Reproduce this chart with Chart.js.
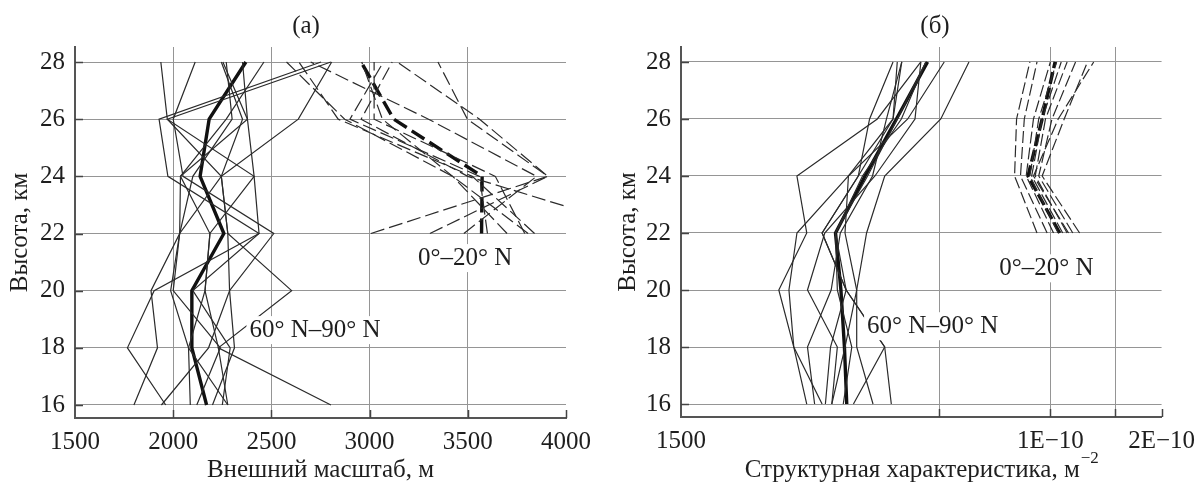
<!DOCTYPE html>
<html>
<head>
<meta charset="utf-8">
<script src="https://cdn.jsdelivr.net/npm/chart.js@4.4.1/dist/chart.umd.min.js"></script>
<style>
  body { margin: 0; background: #fff; }
  #wrap { position: relative; width: 1204px; height: 489px; }
  canvas { position: absolute; top: 0; }
  #chartA { left: 0; }
  #chartB { left: 600px; }
</style>
</head>
<body>
<div id="wrap">
  <canvas id="chartA" width="600" height="489"></canvas>
  <canvas id="chartB" width="604" height="489"></canvas>
</div>
<script>
// высоты, км
const altFull = [16, 18, 20, 22, 24, 26, 28];
const altTrop = [22, 24, 26, 28];
const altTicks = [16, 18, 20, 22, 24, 26, 28];

// (а) внешний масштаб, м — 60° N–90° N (по высотам altFull)
const scalePolar = [
  [1800, 1920, 1887, 2033, 2037, 2378, 2353],
  [1962, 1767, 1903, 2437, 1973, 1928, 2753],
  [2087, 2078, 1987, 2033, 2245, 1970, 2803],
  [2278, 2230, 2162, 2187, 2412, 1970, 1937],
  [2803, 2230, 2603, 2278, 2245, 2353, 2245],
  [2200, 2312, 2287, 2512, 2050, 2000, 2112],
  [2278, 2078, 2162, 2187, 2037, 2270, 2462],
  [1940, 2180, 2287, 2278, 2245, 2637, 2807],
  [2120, 2240, 2000, 2033, 2100, 2300, 2270],
  [2250, 2290, 2100, 2437, 2412, 2378, 2253]
];
const scalePolarMean = [2170, 2095, 2095, 2258, 2137, 2183, 2370];

// (а) внешний масштаб, м — 0°–20° N (по высотам altTrop)
const scaleTrop = [
  [3807, 3423, 2873, 2577],
  [3840, 3523, 2840, 2640],
  [3790, 3640, 3023, 3023],
  [4450, 3500, 2957, 3115],
  [3007, 3907, 3498, 3348],
  [3307, 3907, 3560, 3140],
  [3700, 3423, 3065, 2960],
  [3600, 3560, 2900, 3070],
  [3480, 3850, 3300, 2700]
];
const scaleTropMean = [3570, 3573, 3123, 2957];
const scaleTicks = [1500, 2000, 2500, 3000, 3500, 4000];

// (б) структурная характеристика, м^-2 — 60° N–90° N
const cn2Polar = [
  [2.19e-11, 2.02e-11, 1.84e-11, 2.19e-11, 2.06e-11, 3.40e-11, 4.46e-11],
  [3.31e-11, 2.99e-11, 2.99e-11, 3.18e-11, 3.56e-11, 5.05e-11, 6.02e-11],
  [2.41e-11, 2.02e-11, 1.96e-11, 2.06e-11, 2.84e-11, 3.75e-11, 3.85e-11],
  [2.46e-11, 2.54e-11, 2.80e-11, 2.41e-11, 3.02e-11, 3.24e-11, 3.75e-11],
  [2.56e-11, 2.78e-11, 2.99e-11, 2.78e-11, 2.84e-11, 4.11e-11, 5.16e-11],
  [2.93e-11, 3.56e-11, 2.80e-11, 2.41e-11, 3.02e-11, 3.75e-11, 3.96e-11],
  [3.71e-11, 3.56e-11, 2.80e-11, 2.62e-11, 3.20e-11, 3.85e-11, 4.60e-11],
  [2.30e-11, 2.20e-11, 2.55e-11, 2.70e-11, 3.30e-11, 3.60e-11, 3.96e-11],
  [2.75e-11, 2.90e-11, 2.65e-11, 2.62e-11, 3.10e-11, 3.95e-11, 4.60e-11],
  [2.56e-11, 2.65e-11, 2.20e-11, 2.45e-11, 3.35e-11, 4.30e-11, 4.46e-11]
];
const cn2PolarMean = [2.81e-11, 2.77e-11, 2.71e-11, 2.62e-11, 3.15e-11, 3.83e-11, 4.65e-11];

// (б) структурная характеристика — 0°–20° N
const cn2Trop = [
  [0.92e-10, 0.80e-10, 0.81e-10, 0.88e-10],
  [0.98e-10, 0.83e-10, 0.85e-10, 0.92e-10],
  [1.02e-10, 0.86e-10, 0.90e-10, 1.00e-10],
  [1.05e-10, 0.88e-10, 0.93e-10, 1.04e-10],
  [1.08e-10, 0.89e-10, 0.95e-10, 1.07e-10],
  [1.11e-10, 0.91e-10, 0.97e-10, 1.11e-10],
  [1.15e-10, 0.93e-10, 1.01e-10, 1.17e-10],
  [1.20e-10, 0.95e-10, 1.09e-10, 1.26e-10],
  [1.12e-10, 0.90e-10, 1.05e-10, 1.31e-10]
];
const cn2TropMean = [1.06e-10, 0.87e-10, 0.95e-10, 1.03e-10];
const cn2Ticks = [1e-11, 5e-11, 1e-10, 1.5e-10, 2e-10];
const cn2Labels = { 1e-11: '1500', 1e-10: '1E\u221210', 2e-10: '2E\u221210' };

const FONT = 'Liberation Serif';
const FS = 25;
const INK = '#1e1e1e';

function series(values, levels, style) {
  return Object.assign({
    data: levels.map((h, i) => ({ x: values[i], y: h })),
    showLine: true,
    pointRadius: 0,
    fill: false
  }, style);
}

const thin = { borderColor: '#2b2b2b', borderWidth: 1.2 };
const thick = { borderColor: '#111', borderWidth: 3.4 };

// засечки внутрь, заголовок панели, подписи с белым фоном
function decor(title, titleX, notes, xTitle) {
  return {
    id: 'decor',
    afterDraw(chart) {
      const { ctx, chartArea: a, scales: { x, y } } = chart;
      ctx.save();
      ctx.strokeStyle = '#444';
      ctx.lineWidth = 1.5;
      ctx.beginPath();
      x.ticks.forEach((t, i) => {
        if (i === 0) return;
        const px = Math.round(x.getPixelForValue(t.value)) + 0.5;
        ctx.moveTo(px, a.bottom);
        ctx.lineTo(px, a.bottom - 8);
      });
      y.ticks.forEach(t => {
        const py = Math.round(y.getPixelForValue(t.value)) + 0.5;
        ctx.moveTo(a.left, py);
        ctx.lineTo(a.left + 8, py);
      });
      ctx.stroke();

      ctx.font = FS + 'px "' + FONT + '"';
      ctx.textAlign = 'center';
      ctx.textBaseline = 'middle';
      ctx.fillStyle = INK;
      ctx.fillText(title, titleX, 26);
      notes.forEach(n => {
        const cx = x.getPixelForValue(n.x);
        const cy = y.getPixelForValue(n.y);
        const w = ctx.measureText(n.text).width;
        ctx.fillStyle = '#fff';
        ctx.fillRect(cx - w / 2 - 3, cy - 14, w + 6, 28);
        ctx.fillStyle = INK;
        ctx.fillText(n.text, cx, cy);
      });

      if (xTitle) {
        const supFont = Math.round(FS * 0.68) + 'px "' + FONT + '"';
        const mainFont = FS + 'px "' + FONT + '"';
        ctx.font = mainFont;
        const w1 = ctx.measureText(xTitle.main).width;
        ctx.font = supFont;
        const w2 = ctx.measureText(xTitle.sup).width;
        const x0 = (a.left + a.right) / 2 - (w1 + w2) / 2;
        ctx.textAlign = 'left';
        ctx.font = mainFont;
        ctx.fillText(xTitle.main, x0, 470);
        ctx.font = supFont;
        ctx.fillText(xTitle.sup, x0 + w1 + 1, 459);
      }
      ctx.restore();
    }
  };
}

function makeOptions(xScale, pad, yWidth, xHeight, yTitlePad) {
  return {
    responsive: false,
    animation: false,
    layout: { padding: pad },
    plugins: { legend: { display: false }, tooltip: { enabled: false } },
    scales: {
      x: Object.assign({
        grid: {
          color: ctx => (ctx.index === 0 || ctx.index === ctx.scale.ticks.length - 1) ? 'rgba(0,0,0,0)' : '#959595',
          lineWidth: 1,
          drawTicks: false
        },
        border: { color: '#555', width: 2 },
        afterFit: s => { s.height = xHeight; }
      }, xScale),
      y: {
        type: 'linear',
        min: 15.545,
        max: 28.525,
        afterBuildTicks: s => { s.ticks = altTicks.map(v => ({ value: v })); },
        ticks: { color: INK, padding: 10, font: { family: FONT, size: FS } },
        grid: { color: '#959595', lineWidth: 1, drawTicks: false },
        border: { color: '#555', width: 2 },
        title: { display: true, text: 'Высота, км', color: INK, font: { family: FONT, size: FS }, padding: { top: yTitlePad, bottom: 0 } },
        afterFit: s => { s.width = yWidth; }
      }
    }
  };
}

// панель (а)
const dsA = [];
scalePolar.forEach(r => dsA.push(series(r, altFull, thin)));
scaleTrop.forEach(r => dsA.push(series(r, altTrop, Object.assign({ borderDash: [14, 5] }, thin))));
dsA.push(series(scalePolarMean, altFull, thick));
dsA.push(series(scaleTropMean, altTrop, Object.assign({ borderDash: [15, 6] }, thick)));

new Chart(document.getElementById('chartA'), {
  type: 'scatter',
  data: { datasets: dsA },
  options: makeOptions({
    type: 'linear',
    min: 1500,
    max: 4000,
    afterBuildTicks: s => { s.ticks = scaleTicks.map(v => ({ value: v })); },
    ticks: {
      color: INK, padding: 9, maxRotation: 0, autoSkip: false,
      font: { family: FONT, size: FS },
      callback: v => String(v)
    },
    title: { display: true, text: 'Внешний масштаб, м', color: INK, font: { family: FONT, size: FS }, padding: { top: 0, bottom: 4 } }
  }, { left: 0, right: 28, top: 47, bottom: 0 }, 75, 71, 5),
  plugins: [decor('(а)', 306, [
    { text: '0°\u201320° N', x: 3487, y: 21.14 },
    { text: '60° N\u201390° N', x: 2722, y: 18.62 }
  ])]
});

// панель (б)
const dsB = [];
cn2Polar.forEach(r => dsB.push(series(r, altFull, thin)));
cn2Trop.forEach(r => dsB.push(series(r, altTrop, Object.assign({ borderDash: [12, 4] }, thin))));
dsB.push(series(cn2PolarMean, altFull, thick));
dsB.push(series(cn2TropMean, altTrop, Object.assign({ borderDash: [12, 4] }, thick)));

new Chart(document.getElementById('chartB'), {
  type: 'scatter',
  data: { datasets: dsB },
  options: makeOptions({
    type: 'logarithmic',
    min: 1e-11,
    max: 2e-10,
    afterBuildTicks: s => { s.ticks = cn2Ticks.map(v => ({ value: v })); },
    ticks: {
      color: INK, padding: 9, maxRotation: 0, autoSkip: false,
      font: { family: FONT, size: FS },
      callback: v => cn2Labels[v] || ''
    },
    title: { display: false }
  }, { left: 0, right: 38, top: 47, bottom: 0 }, 81, 72, 13),
  plugins: [decor('(б)', 335, [
    { text: '0°\u201320° N', x: 9.76e-11, y: 20.76 },
    { text: '60° N\u201390° N', x: 4.8e-11, y: 18.73 }
  ], { main: 'Структурная характеристика, м', sup: '\u22122' })]
});
</script>
</body>
</html>
